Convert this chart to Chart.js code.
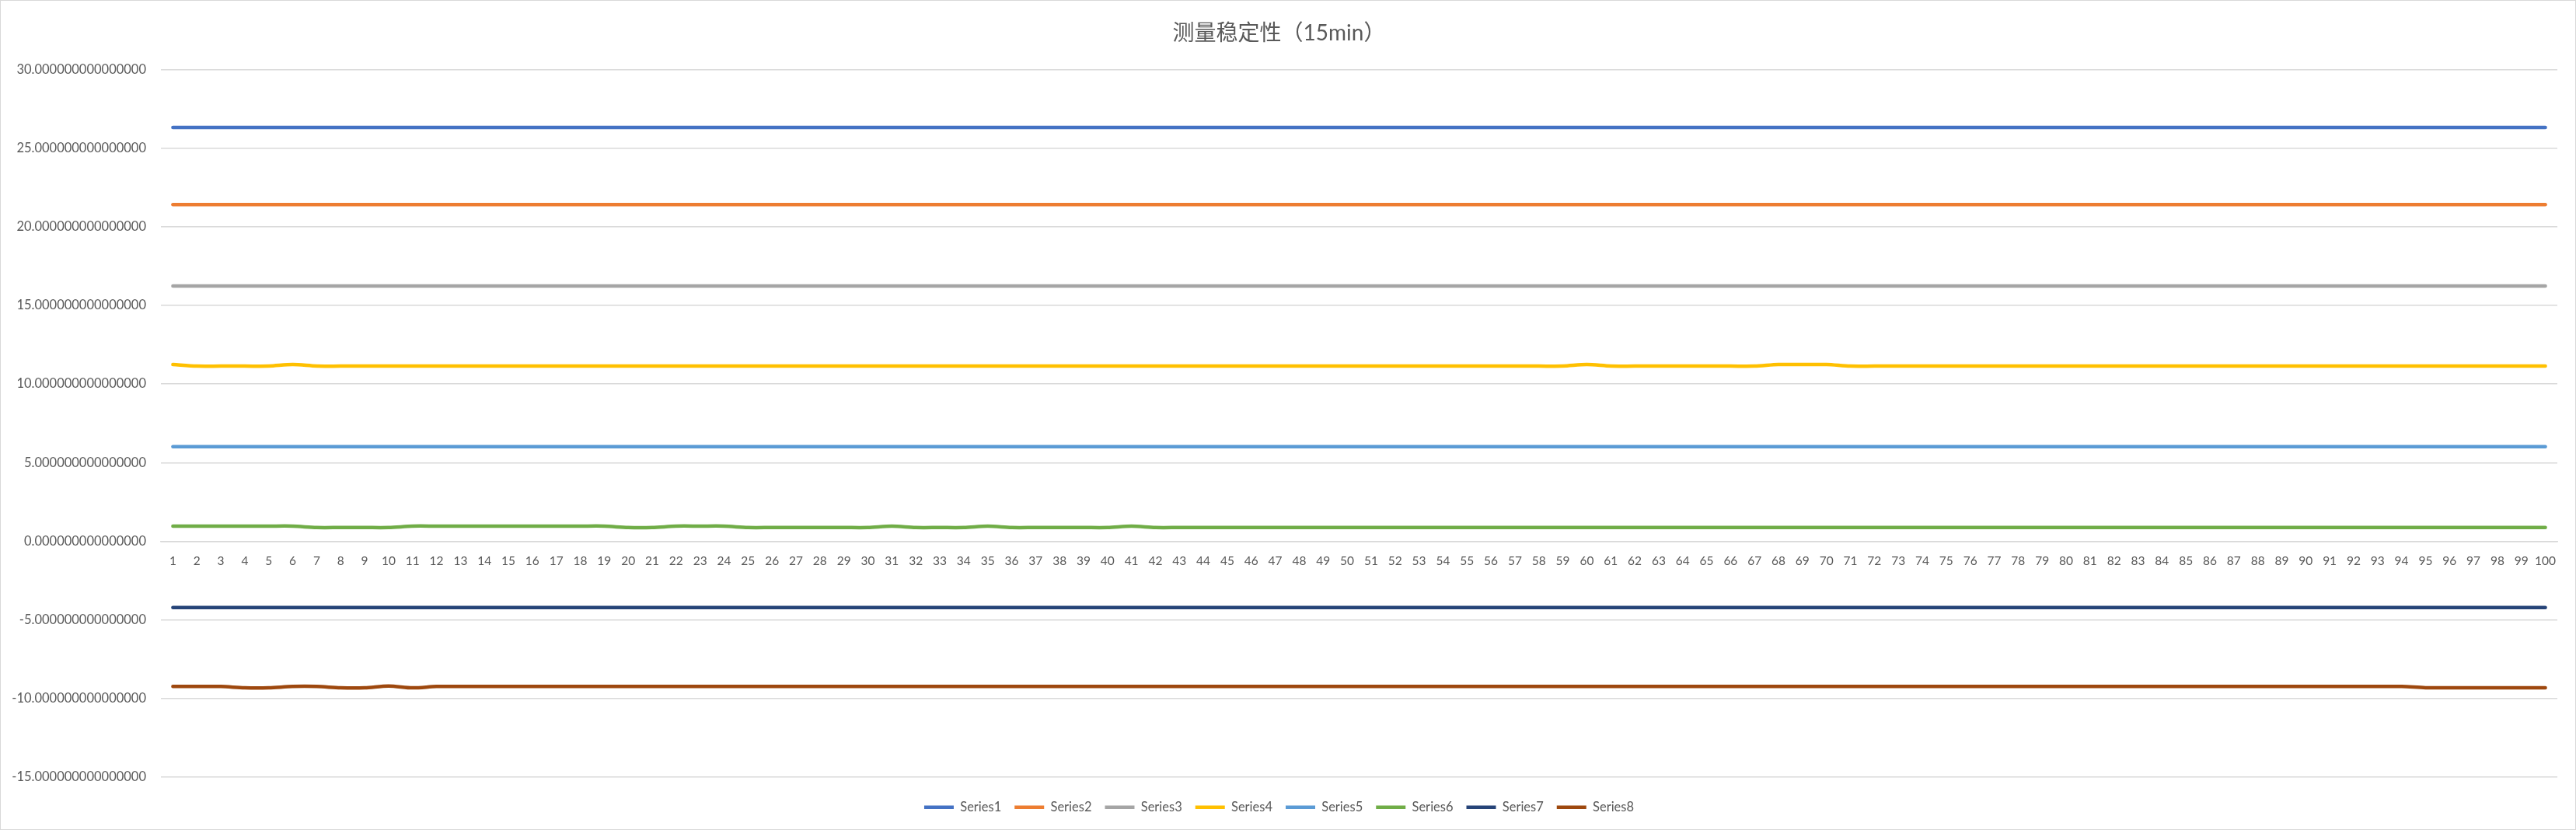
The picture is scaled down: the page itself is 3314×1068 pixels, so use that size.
<!DOCTYPE html>
<html>
<head>
<meta charset="utf-8">
<script src="https://cdn.jsdelivr.net/npm/chart.js@4/dist/chart.umd.min.js"></script>
<style>
  html, body { margin: 0; padding: 0; background: #ffffff; }
  #wrap { box-sizing: border-box; width: 3314px; height: 1068px; border: 1px solid #d9d9d9; background: #ffffff; }
  canvas { display: block; }
</style>
</head>
<body>
<div id="wrap"><canvas id="stabilityChart" width="3312" height="1066"></canvas></div>
<script>
// Categories (sample index)
const categories = [
  1, 2, 3, 4, 5, 6, 7, 8, 9, 10, 11, 12, 13, 14, 15, 16, 17, 18, 19, 20,
  21, 22, 23, 24, 25, 26, 27, 28, 29, 30, 31, 32, 33, 34, 35, 36, 37, 38, 39, 40,
  41, 42, 43, 44, 45, 46, 47, 48, 49, 50, 51, 52, 53, 54, 55, 56, 57, 58, 59, 60,
  61, 62, 63, 64, 65, 66, 67, 68, 69, 70, 71, 72, 73, 74, 75, 76, 77, 78, 79, 80,
  81, 82, 83, 84, 85, 86, 87, 88, 89, 90, 91, 92, 93, 94, 95, 96, 97, 98, 99, 100
];

// Series values
const series1 = [
  26.32, 26.32, 26.32, 26.32, 26.32, 26.32, 26.32, 26.32, 26.32, 26.32, 26.32, 26.32, 26.32, 26.32, 26.32, 26.32, 26.32, 26.32, 26.32, 26.32,
  26.32, 26.32, 26.32, 26.32, 26.32, 26.32, 26.32, 26.32, 26.32, 26.32, 26.32, 26.32, 26.32, 26.32, 26.32, 26.32, 26.32, 26.32, 26.32, 26.32,
  26.32, 26.32, 26.32, 26.32, 26.32, 26.32, 26.32, 26.32, 26.32, 26.32, 26.32, 26.32, 26.32, 26.32, 26.32, 26.32, 26.32, 26.32, 26.32, 26.32,
  26.32, 26.32, 26.32, 26.32, 26.32, 26.32, 26.32, 26.32, 26.32, 26.32, 26.32, 26.32, 26.32, 26.32, 26.32, 26.32, 26.32, 26.32, 26.32, 26.32,
  26.32, 26.32, 26.32, 26.32, 26.32, 26.32, 26.32, 26.32, 26.32, 26.32, 26.32, 26.32, 26.32, 26.32, 26.32, 26.32, 26.32, 26.32, 26.32, 26.32
];
const series2 = [
  21.42, 21.42, 21.42, 21.42, 21.42, 21.42, 21.42, 21.42, 21.42, 21.42, 21.42, 21.42, 21.42, 21.42, 21.42, 21.42, 21.42, 21.42, 21.42, 21.42,
  21.42, 21.42, 21.42, 21.42, 21.42, 21.42, 21.42, 21.42, 21.42, 21.42, 21.42, 21.42, 21.42, 21.42, 21.42, 21.42, 21.42, 21.42, 21.42, 21.42,
  21.42, 21.42, 21.42, 21.42, 21.42, 21.42, 21.42, 21.42, 21.42, 21.42, 21.42, 21.42, 21.42, 21.42, 21.42, 21.42, 21.42, 21.42, 21.42, 21.42,
  21.42, 21.42, 21.42, 21.42, 21.42, 21.42, 21.42, 21.42, 21.42, 21.42, 21.42, 21.42, 21.42, 21.42, 21.42, 21.42, 21.42, 21.42, 21.42, 21.42,
  21.42, 21.42, 21.42, 21.42, 21.42, 21.42, 21.42, 21.42, 21.42, 21.42, 21.42, 21.42, 21.42, 21.42, 21.42, 21.42, 21.42, 21.42, 21.42, 21.42
];
const series3 = [
  16.24, 16.24, 16.24, 16.24, 16.24, 16.24, 16.24, 16.24, 16.24, 16.24, 16.24, 16.24, 16.24, 16.24, 16.24, 16.24, 16.24, 16.24, 16.24, 16.24,
  16.24, 16.24, 16.24, 16.24, 16.24, 16.24, 16.24, 16.24, 16.24, 16.24, 16.24, 16.24, 16.24, 16.24, 16.24, 16.24, 16.24, 16.24, 16.24, 16.24,
  16.24, 16.24, 16.24, 16.24, 16.24, 16.24, 16.24, 16.24, 16.24, 16.24, 16.24, 16.24, 16.24, 16.24, 16.24, 16.24, 16.24, 16.24, 16.24, 16.24,
  16.24, 16.24, 16.24, 16.24, 16.24, 16.24, 16.24, 16.24, 16.24, 16.24, 16.24, 16.24, 16.24, 16.24, 16.24, 16.24, 16.24, 16.24, 16.24, 16.24,
  16.24, 16.24, 16.24, 16.24, 16.24, 16.24, 16.24, 16.24, 16.24, 16.24, 16.24, 16.24, 16.24, 16.24, 16.24, 16.24, 16.24, 16.24, 16.24, 16.24
];
const series4 = [
  11.24, 11.14, 11.14, 11.14, 11.14, 11.24, 11.14, 11.14, 11.14, 11.14, 11.14, 11.14, 11.14, 11.14, 11.14, 11.14, 11.14, 11.14, 11.14, 11.14,
  11.14, 11.14, 11.14, 11.14, 11.14, 11.14, 11.14, 11.14, 11.14, 11.14, 11.14, 11.14, 11.14, 11.14, 11.14, 11.14, 11.14, 11.14, 11.14, 11.14,
  11.14, 11.14, 11.14, 11.14, 11.14, 11.14, 11.14, 11.14, 11.14, 11.14, 11.14, 11.14, 11.14, 11.14, 11.14, 11.14, 11.14, 11.14, 11.14, 11.24,
  11.14, 11.14, 11.14, 11.14, 11.14, 11.14, 11.14, 11.24, 11.24, 11.24, 11.14, 11.14, 11.14, 11.14, 11.14, 11.14, 11.14, 11.14, 11.14, 11.14,
  11.14, 11.14, 11.14, 11.14, 11.14, 11.14, 11.14, 11.14, 11.14, 11.14, 11.14, 11.14, 11.14, 11.14, 11.14, 11.14, 11.14, 11.14, 11.14, 11.14
];
const series5 = [
  6.02, 6.02, 6.02, 6.02, 6.02, 6.02, 6.02, 6.02, 6.02, 6.02, 6.02, 6.02, 6.02, 6.02, 6.02, 6.02, 6.02, 6.02, 6.02, 6.02,
  6.02, 6.02, 6.02, 6.02, 6.02, 6.02, 6.02, 6.02, 6.02, 6.02, 6.02, 6.02, 6.02, 6.02, 6.02, 6.02, 6.02, 6.02, 6.02, 6.02,
  6.02, 6.02, 6.02, 6.02, 6.02, 6.02, 6.02, 6.02, 6.02, 6.02, 6.02, 6.02, 6.02, 6.02, 6.02, 6.02, 6.02, 6.02, 6.02, 6.02,
  6.02, 6.02, 6.02, 6.02, 6.02, 6.02, 6.02, 6.02, 6.02, 6.02, 6.02, 6.02, 6.02, 6.02, 6.02, 6.02, 6.02, 6.02, 6.02, 6.02,
  6.02, 6.02, 6.02, 6.02, 6.02, 6.02, 6.02, 6.02, 6.02, 6.02, 6.02, 6.02, 6.02, 6.02, 6.02, 6.02, 6.02, 6.02, 6.02, 6.02
];
const series6 = [
  0.96, 0.96, 0.96, 0.96, 0.96, 0.96, 0.87, 0.87, 0.87, 0.87, 0.96, 0.96, 0.96, 0.96, 0.96, 0.96, 0.96, 0.96, 0.96, 0.87,
  0.87, 0.96, 0.96, 0.96, 0.87, 0.87, 0.87, 0.87, 0.87, 0.87, 0.96, 0.87, 0.87, 0.87, 0.96, 0.87, 0.87, 0.87, 0.87, 0.87,
  0.96, 0.87, 0.87, 0.87, 0.87, 0.87, 0.87, 0.87, 0.87, 0.87, 0.87, 0.87, 0.87, 0.87, 0.87, 0.87, 0.87, 0.87, 0.87, 0.87,
  0.87, 0.87, 0.87, 0.87, 0.87, 0.87, 0.87, 0.87, 0.87, 0.87, 0.87, 0.87, 0.87, 0.87, 0.87, 0.87, 0.87, 0.87, 0.87, 0.87,
  0.87, 0.87, 0.87, 0.87, 0.87, 0.87, 0.87, 0.87, 0.87, 0.87, 0.87, 0.87, 0.87, 0.87, 0.87, 0.87, 0.87, 0.87, 0.87, 0.87
];
const series7 = [
  -4.22, -4.22, -4.22, -4.22, -4.22, -4.22, -4.22, -4.22, -4.22, -4.22, -4.22, -4.22, -4.22, -4.22, -4.22, -4.22, -4.22, -4.22, -4.22, -4.22,
  -4.22, -4.22, -4.22, -4.22, -4.22, -4.22, -4.22, -4.22, -4.22, -4.22, -4.22, -4.22, -4.22, -4.22, -4.22, -4.22, -4.22, -4.22, -4.22, -4.22,
  -4.22, -4.22, -4.22, -4.22, -4.22, -4.22, -4.22, -4.22, -4.22, -4.22, -4.22, -4.22, -4.22, -4.22, -4.22, -4.22, -4.22, -4.22, -4.22, -4.22,
  -4.22, -4.22, -4.22, -4.22, -4.22, -4.22, -4.22, -4.22, -4.22, -4.22, -4.22, -4.22, -4.22, -4.22, -4.22, -4.22, -4.22, -4.22, -4.22, -4.22,
  -4.22, -4.22, -4.22, -4.22, -4.22, -4.22, -4.22, -4.22, -4.22, -4.22, -4.22, -4.22, -4.22, -4.22, -4.22, -4.22, -4.22, -4.22, -4.22, -4.22
];
const series8 = [
  -9.24, -9.24, -9.24, -9.33, -9.33, -9.24, -9.24, -9.33, -9.33, -9.21, -9.33, -9.24, -9.24, -9.24, -9.24, -9.24, -9.24, -9.24, -9.24, -9.24,
  -9.24, -9.24, -9.24, -9.24, -9.24, -9.24, -9.24, -9.24, -9.24, -9.24, -9.24, -9.24, -9.24, -9.24, -9.24, -9.24, -9.24, -9.24, -9.24, -9.24,
  -9.24, -9.24, -9.24, -9.24, -9.24, -9.24, -9.24, -9.24, -9.24, -9.24, -9.24, -9.24, -9.24, -9.24, -9.24, -9.24, -9.24, -9.24, -9.24, -9.24,
  -9.24, -9.24, -9.24, -9.24, -9.24, -9.24, -9.24, -9.24, -9.24, -9.24, -9.24, -9.24, -9.24, -9.24, -9.24, -9.24, -9.24, -9.24, -9.24, -9.24,
  -9.24, -9.24, -9.24, -9.24, -9.24, -9.24, -9.24, -9.24, -9.24, -9.24, -9.24, -9.24, -9.24, -9.24, -9.32, -9.32, -9.32, -9.32, -9.32, -9.32
];

const seriesNames = ['Series1', 'Series2', 'Series3', 'Series4', 'Series5', 'Series6', 'Series7', 'Series8'];
const seriesColors = ['#4472C4', '#ED7D31', '#A5A5A5', '#FFC000', '#5B9BD5', '#70AD47', '#264478', '#9E480E'];
const seriesData = [series1, series2, series3, series4, series5, series6, series7, series8];

// y axis range
const yMin = -15;
const yMax = 30;
const yStep = 5;

const textColor = '#595959';
const gridColor = '#d9d9d9';
const fontFamily = "Lato, 'Noto Sans CJK SC', sans-serif";

document.addEventListener('DOMContentLoaded', function() {
    const ctx = document.getElementById('stabilityChart');

    const datasets = seriesNames.map((name, i) => ({
        label: name,
        data: seriesData[i],
        borderColor: seriesColors[i],
        backgroundColor: seriesColors[i],
        borderWidth: 4.5,
        borderCapStyle: 'round',
        pointRadius: 0,
        tension: 0.3,
        fill: false
    }));

    new Chart(ctx, {
        type: 'line',
        data: {
            labels: categories,
            datasets: datasets
        },
        options: {
            responsive: false,
            animation: false,
            layout: {
                padding: { left: 0, right: 23, top: 0, bottom: 10 }
            },
            plugins: {
                title: {
                    display: true,
                    text: '测量稳定性（15min）',
                    color: textColor,
                    font: { family: fontFamily, size: 28, weight: 'normal' },
                    padding: { top: 25, bottom: 30 }
                },
                legend: {
                    position: 'bottom',
                    // empty legend title only used as spacer above the items
                    title: {
                        display: true,
                        text: ' ',
                        font: { size: 1 },
                        padding: { top: 12.5, bottom: 0 }
                    },
                    labels: {
                        usePointStyle: true,
                        pointStyle: 'line',
                        pointStyleWidth: 38,
                        color: textColor,
                        font: { family: fontFamily, size: 16.5 },
                        padding: 17
                    }
                },
                tooltip: { enabled: false }
            },
            scales: {
                x: {
                    position: { y: 0 },
                    offset: true,
                    grid: { display: false },
                    border: { display: true, color: gridColor, width: 1.5 },
                    ticks: {
                        autoSkip: false,
                        maxRotation: 0,
                        color: textColor,
                        font: { family: fontFamily, size: 15.5 },
                        padding: 8
                    }
                },
                y: {
                    min: yMin,
                    max: yMax,
                    grid: { color: gridColor, lineWidth: 1.5, drawTicks: false },
                    border: { display: false },
                    ticks: {
                        stepSize: yStep,
                        color: textColor,
                        font: { family: fontFamily, size: 16.5 },
                        padding: 19,
                        callback: function(value) {
                            return Number(value).toFixed(15);
                        }
                    },
                    afterFit: function(scale) {
                        scale.width = 206;
                    }
                }
            }
        }
    });
});
</script>
</body>
</html>
